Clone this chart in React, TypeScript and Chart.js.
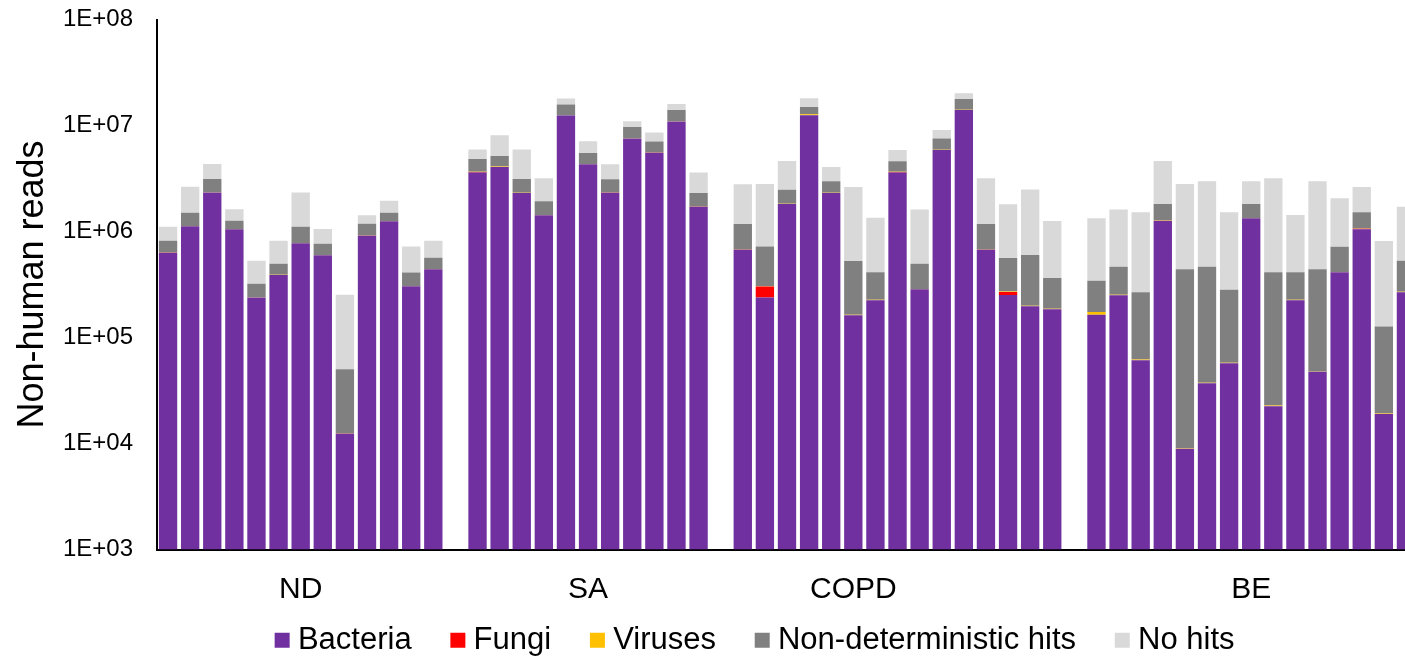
import { useEffect, useRef } from 'react';
import { Chart, registerables } from 'chart.js';

Chart.register(...registerables);

// Sample groups along the x axis (one bar per sample, an empty slot between groups)
const groupNames = ['ND', 'SA', 'COPD', 'BE'];
const groupSizes = [13, 11, 15, 15];
// bar (inside each group) under which the group name is written
const groupLabelAt = [6, 5, 5, 7];

const yTickValues = [1e3, 1e4, 1e5, 1e6, 1e7, 1e8];
const yTickLabels = ['1E+03', '1E+04', '1E+05', '1E+06', '1E+07', '1E+08'];

const seriesNames = ['Bacteria', 'Fungi', 'Viruses', 'Non-deterministic hits', 'No hits'];
const seriesColors = ['#7030A0', '#FF0000', '#FFC000', '#808080', '#D9D9D9'];

// Non-human reads per sample, listed ND | SA | COPD | BE
const bacteria = [
  635000, 1120000, 2330000, 1050000, 238000, 388000, 773000, 596000, 12400, 919000, 1250000, 304000, 440000,
  3600000, 4070000, 2310000, 1420000, 12400000, 4310000, 2330000, 7530000, 5560000, 10900000, 1720000,
  678000, 238000, 1820000, 12500000, 2310000, 162000, 225000, 3600000, 285000, 5880000, 14000000, 678000, 252000, 197000, 185000,
  164000, 250000, 61100, 1260000, 8930, 37100, 57300, 1330000, 22500, 225000, 47400, 412000, 1050000, 19000, 267000,
];

const fungi = [
  0, 0, 0, 0, 0, 0, 0, 0, 0, 0, 0, 0, 0,
  50000, 0, 0, 0, 0, 0, 0, 0, 0, 0, 0,
  0, 64000, 0, 0, 0, 0, 0, 40000, 0, 0, 0, 0, 17000, 0, 0,
  0, 0, 0, 0, 0, 0, 0, 0, 0, 0, 0, 0, 12000, 0, 0,
];

const viruses = [
  4000, 8000, 15000, 7000, 2000, 3000, 5000, 4000, 150, 6000, 8000, 2500, 3000,
  20000, 25000, 10000, 8000, 60000, 30000, 30000, 40000, 50000, 50000, 20000,
  4000, 2000, 12000, 300000, 10000, 1500, 2000, 20000, 2500, 40000, 60000, 6000, 3000, 2000, 2000,
  9900, 2500, 800, 15000, 100, 400, 600, 12000, 300, 2500, 500, 4000, 8000, 200, 3000,
];

const nonDeterministic = [
  178000, 372000, 785000, 208000, 82000, 105000, 329000, 166000, 37700, 257000, 242000, 105000, 122000,
  1170000, 1070000, 810000, 500000, 3340000, 1170000, 750000, 2110000, 1440000, 3050000, 570000,
  492000, 417000, 640000, 2160000, 660000, 362000, 186000, 940000, 208000, 1610000, 3700000, 490000, 290000, 400000, 177000,
  169000, 212000, 205000, 545000, 431000, 428000, 225000, 480000, 390000, 186000, 392000, 302000, 446000, 108000, 260000,
];

const noHits = [
  290000, 1140000, 1200000, 353000, 208000, 321000, 1230000, 287000, 203000, 245000, 445000, 312000, 252000,
  1090000, 2930000, 2800000, 1250000, 2200000, 1600000, 1200000, 1270000, 1520000, 1930000, 1290000,
  1620000, 2080000, 2160000, 3100000, 1080000, 2110000, 934000, 1280000, 1120000, 1540000, 2440000, 2010000, 1250000, 1890000, 889000,
  994000, 1150000, 1256000, 2810000, 2370000, 2520000, 1240000, 1160000, 2770000, 1015000, 2540000, 1345000, 1120000, 685000, 1180000,
];

const seriesValues = [bacteria, fungi, viruses, nonDeterministic, noHits];

// Spread a per-sample series over the category slots, leaving an empty slot between groups
function withGaps(values: number[]): (number | null)[] {
  const out: (number | null)[] = [];
  let pos = 0;
  groupSizes.forEach((n, g) => {
    if (g > 0) out.push(null);
    out.push(...values.slice(pos, pos + n));
    pos += n;
  });
  return out;
}

const categories: string[] = [];
groupSizes.forEach((n, g) => {
  if (g > 0) categories.push('');
  for (let i = 0; i < n; i++) categories.push(i === groupLabelAt[g] ? groupNames[g] : '');
});

const VIEW_W = 1405;
// The drawing surface runs on past the visible frame, so the last bar is cut in half.
const CANVAS_W = 1417;
const CANVAS_H = 662;
// The legend is centred on the full chart frame (which runs on past the plot's
// right edge) and sits closer to the axis labels than its item spacing allows.
const LEGEND_DX = 44.7;
const LEGEND_DY = -28.75;

const legendOffset = {
  id: 'legendOffset',
  afterLayout(chart: any) {
    const legend = chart.legend;
    if (legend) {
      legend.left += LEGEND_DX;
      legend.right += LEGEND_DX;
      legend.top += LEGEND_DY;
      legend.bottom += LEGEND_DY;
    }
  },
};

Chart.defaults.font.family = "'Liberation Sans', Arial, Helvetica, sans-serif";
Chart.defaults.color = '#000000';

export default function App() {
  const canvasRef = useRef<HTMLCanvasElement>(null);

  useEffect(() => {
    const canvas = canvasRef.current;
    if (!canvas) return;

    const datasets = seriesNames.map((label, k) => ({
      label,
      data: withGaps(seriesValues[k]),
      backgroundColor: seriesColors[k],
      borderWidth: 0,
      stack: 'reads',
    }));

    const chart = new Chart(canvas, {
      type: 'bar',
      data: { labels: categories, datasets },
      options: {
        responsive: false,
        animation: false,
        devicePixelRatio: 1,
        layout: { padding: { left: 10, right: 0, top: 19.5, bottom: -32.5 } },
        datasets: { bar: { barPercentage: 0.83, categoryPercentage: 1 } },
        scales: {
          x: {
            stacked: true,
            grid: { display: false, drawTicks: false },
            border: { display: true, color: '#000000', width: 2 },
            ticks: {
              autoSkip: false,
              maxRotation: 0,
              minRotation: 0,
              padding: 22,
              color: '#000000',
              font: { size: 30 },
            },
            afterFit: (scale: any) => {
              scale.height = 58;
              scale.paddingLeft = 0;
              scale.paddingRight = 0;
            },
          },
          y: {
            type: 'logarithmic',
            stacked: true,
            min: 1e3,
            max: 1e8,
            grid: { display: false, drawTicks: false },
            border: { display: true, color: '#000000', width: 2 },
            title: {
              display: true,
              text: 'Non-human reads',
              color: '#000000',
              font: { size: 36 },
              padding: { top: 1.5, bottom: 4 },
            },
            ticks: {
              color: '#000000',
              font: { size: 24 },
              padding: 24,
              callback: (v: any) => {
                const i = yTickValues.indexOf(Number(v));
                return i >= 0 ? yTickLabels[i] : '';
              },
            },
            afterBuildTicks: (scale: any) => {
              scale.ticks = yTickValues.map((value) => ({ value }));
            },
            afterFit: (scale: any) => {
              scale.width = 147;
              scale.paddingTop = 0;
              scale.paddingBottom = 0;
            },
          },
        },
        plugins: {
          legend: {
            position: 'bottom',
            labels: {
              usePointStyle: true,
              pointStyle: 'rect',
              boxWidth: 0.5,
              boxHeight: 15,
              padding: 46,
              color: '#000000',
              font: { size: 31 },
            },
          },
          tooltip: { enabled: false },
        },
      },
      plugins: [legendOffset],
    } as any);

    return () => chart.destroy();
  }, []);

  return (
    <div
      style={{
        position: 'fixed',
        left: 0,
        top: 0,
        width: VIEW_W,
        height: CANVAS_H,
        overflow: 'hidden',
        background: '#ffffff',
      }}
    >
      <canvas
        ref={canvasRef}
        width={CANVAS_W}
        height={CANVAS_H}
        style={{ position: 'absolute', left: 0, top: 0, display: 'block' }}
      />
    </div>
  );
}
